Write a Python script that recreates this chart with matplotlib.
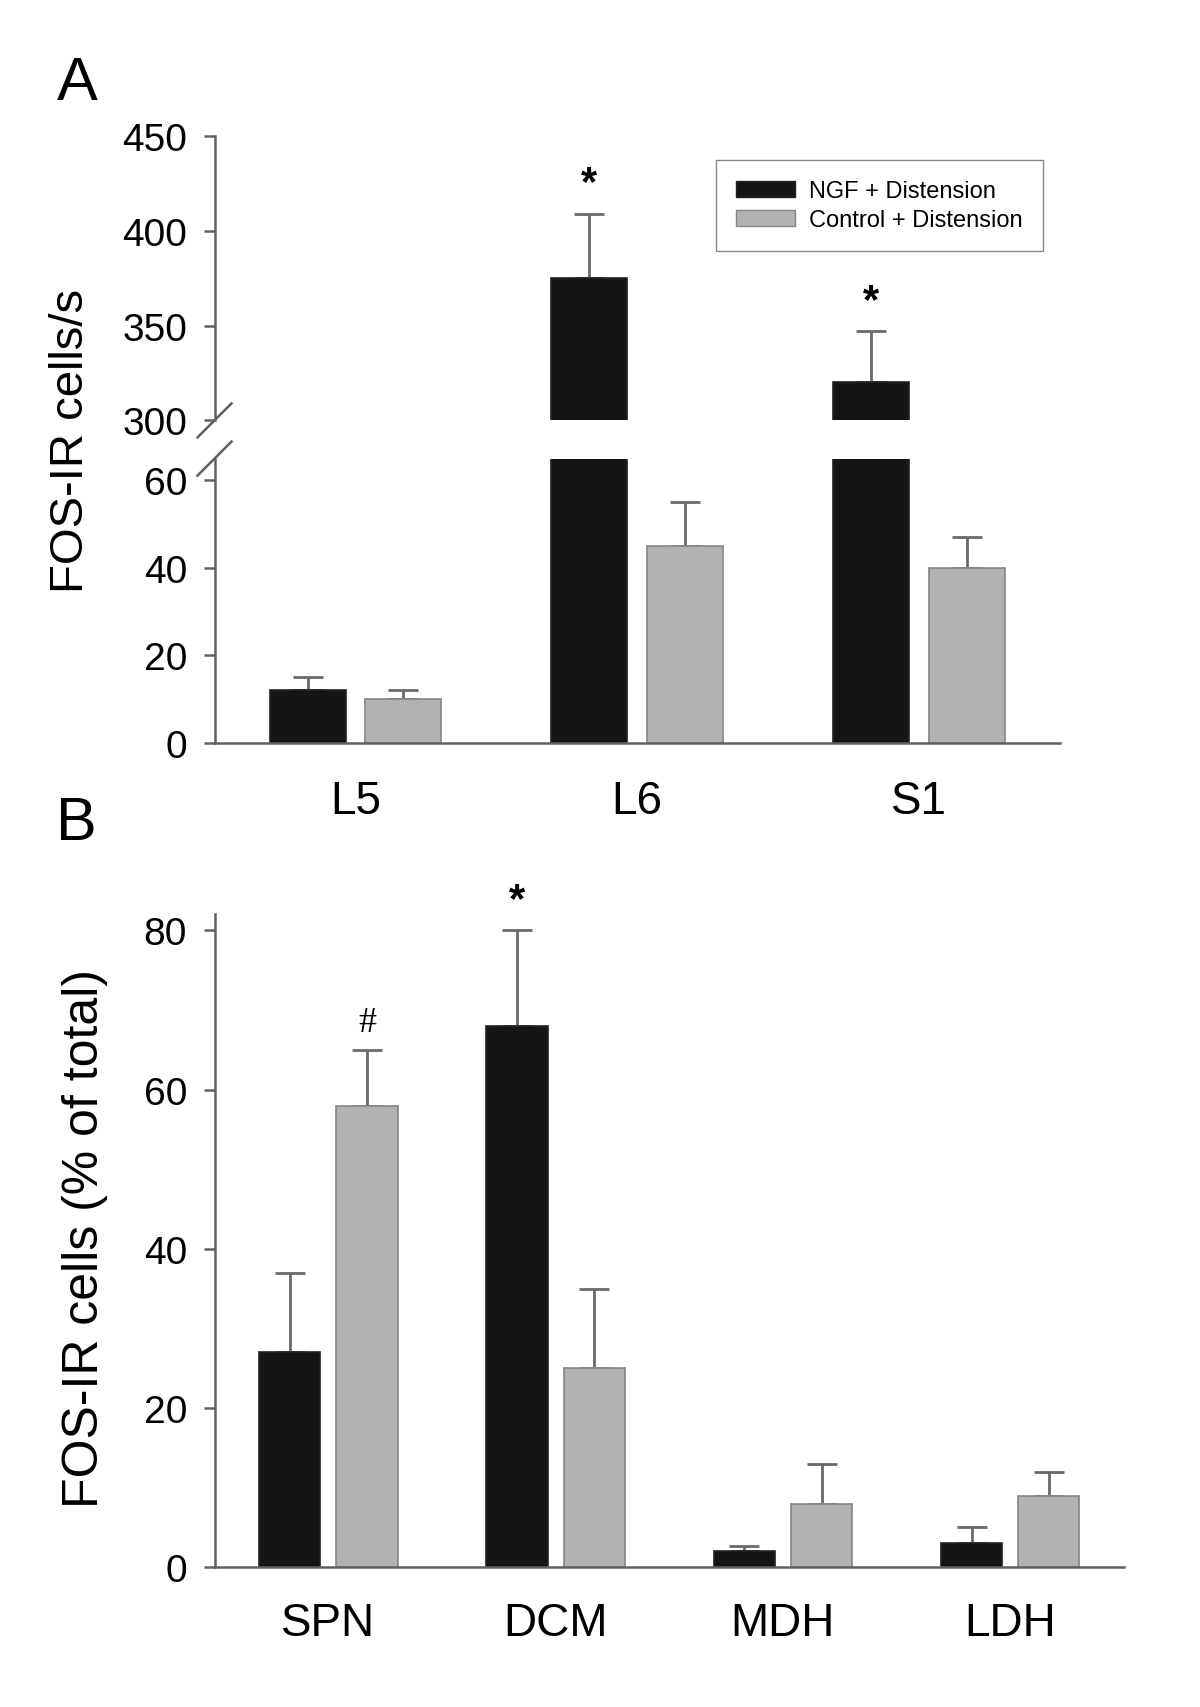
import numpy as np
import matplotlib
matplotlib.use("Agg")
import matplotlib.pyplot as plt
from matplotlib.patches import Patch

plt.rcParams['font.family'] = ['Liberation Sans', 'DejaVu Sans']

# Panel A data
regions_a = ["L5", "L6", "S1"]
ngf_a = [12, 375, 320]
ngf_a_err = [3, 34, 27]
ctrl_a = [10, 45, 40]
ctrl_a_err = [2, 10, 7]
stars_a = ["", "*", "*"]

# Panel B data
regions_b = ["SPN", "DCM", "MDH", "LDH"]
ngf_b = [27, 68, 2, 3]
ngf_b_err = [10, 12, 0.7, 2]
ctrl_b = [58, 25, 8, 9]
ctrl_b_err = [7, 10, 5, 3]

black = '#151515'
grey = '#b1b3b3'
spine_col = '#606060'
w = 0.27
off = 0.17

fig = plt.figure(figsize=(12, 17.08), dpi=100)
ax_up = fig.add_axes([0.179, 0.7533, 0.704, 0.1664])
ax_lo = fig.add_axes([0.179, 0.5645, 0.704, 0.1664])
ax_b = fig.add_axes([0.179, 0.0818, 0.7575, 0.3822])


def style(ax, xpad):
    for s in ['top', 'right']:
        ax.spines[s].set_visible(False)
    for s in ['left', 'bottom']:
        ax.spines[s].set_color(spine_col)
        ax.spines[s].set_linewidth(1.8)
    ax.tick_params(axis='y', direction='out', length=8, width=1.8, color=spine_col,
                   labelsize=28, pad=12)
    ax.tick_params(axis='x', length=0, labelsize=33, pad=xpad)


def draw_bars(ax, n, a, a_err, b, b_err):
    x = np.arange(n)
    ax.bar(x - off, a, w, color=black, edgecolor='#222222', linewidth=1.2, zorder=2)
    ax.bar(x + off, b, w, color=grey, edgecolor='#858585', linewidth=1.2, zorder=2)
    ax.errorbar(x - off, a, yerr=[np.zeros(n), a_err], fmt='none', ecolor='#6a6a6a',
                elinewidth=2, capsize=11, capthick=2, zorder=1)
    ax.errorbar(x + off, b, yerr=[np.zeros(n), b_err], fmt='none', ecolor='#6a6a6a',
                elinewidth=2, capsize=11, capthick=2, zorder=1)


# Panel A
for ax in (ax_up, ax_lo):
    style(ax, 26)
    draw_bars(ax, len(regions_a), ngf_a, ngf_a_err, ctrl_a, ctrl_a_err)
    ax.set_xlim(-0.5, len(regions_a) - 0.5)

ax_up.set_ylim(300, 450)
ax_up.set_yticks([300, 350, 400, 450])
ax_up.spines['bottom'].set_visible(False)
ax_up.set_xticks([])

ax_lo.set_ylim(0, 65)
ax_lo.set_yticks([0, 20, 40, 60])
ax_lo.set_xticks(np.arange(len(regions_a)))
ax_lo.set_xticklabels(regions_a)

# break marks on the y axis
d = 17
for yy in (421.4, 459.6):
    fig.add_artist(plt.Line2D([(214.5 - d) / 1200, (214.5 + d) / 1200],
                              [1 - (yy + d) / 1708, 1 - (yy - d) / 1708],
                              color=spine_col, lw=1.8))

for i, s in enumerate(stars_a):
    if s:
        ax_up.annotate(s, (i - off, ngf_a[i] + ngf_a_err[i]), xytext=(0, 22),
                       textcoords='offset points', ha='center', va='center',
                       fontsize=30, fontweight='bold')

ax_up.legend(handles=[Patch(facecolor=black, edgecolor='#222222', label='NGF + Distension'),
                      Patch(facecolor=grey, edgecolor='#858585', label='Control + Distension')],
             loc='upper right', bbox_to_anchor=(0.980, 0.916), borderaxespad=0,
             fontsize=17, fancybox=False, edgecolor='#888888', framealpha=1,
             handlelength=2.5, handleheight=0.7, labelspacing=0.3,
             borderpad=0.85, handletextpad=0.6)

fig.text(0.059, 1 - 441 / 1708, 'FOS-IR cells/s', rotation=90, ha='center', va='center',
         fontsize=34)
fig.text(0.047, 1 - 85 / 1708, 'A', fontsize=44, ha='left', va='center')

# Panel B
style(ax_b, 24)
draw_bars(ax_b, len(regions_b), ngf_b, ngf_b_err, ctrl_b, ctrl_b_err)
ax_b.set_xlim(-0.5, len(regions_b) - 0.5)
ax_b.set_ylim(0, 82)
ax_b.set_yticks([0, 20, 40, 60, 80])
ax_b.set_xticks(np.arange(len(regions_b)))
ax_b.set_xticklabels(regions_b)

ax_b.annotate('*', (1 - off, ngf_b[1] + ngf_b_err[1]), xytext=(0, 22),
              textcoords='offset points', ha='center', va='center',
              fontsize=30, fontweight='bold')
ax_b.annotate('#', (0 + off, ctrl_b[0] + ctrl_b_err[0]), xytext=(0, 20),
              textcoords='offset points', ha='center', va='center',
              fontsize=26, family=['Liberation Serif', 'DejaVu Serif'])

fig.text(0.071, 1 - 1238 / 1708, 'FOS-IR cells (% of total)', rotation=90,
         ha='center', va='center', fontsize=36)
fig.text(0.047, 1 - 825 / 1708, 'B', fontsize=44, ha='left', va='center')

fig.savefig('out.png', dpi=100)
